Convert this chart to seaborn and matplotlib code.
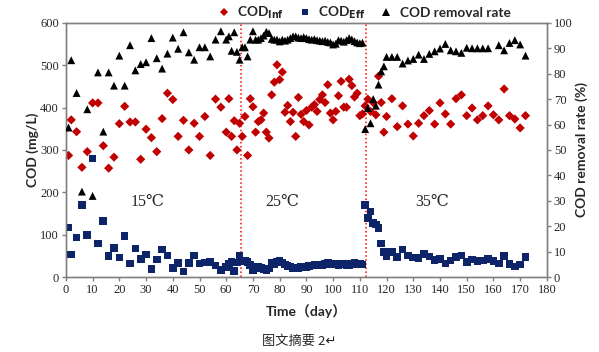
"""
COD influent / effluent and removal rate over time at three temperatures
"""

import matplotlib
matplotlib.use('Agg')
import matplotlib.pyplot as plt
from matplotlib.lines import Line2D
import seaborn as sns
import pandas as pd
import numpy as np

# sampling days (shared by all three series)
day = [1, 2, 4, 6, 8, 10, 12, 14, 16, 18, 20, 22, 24, 26, 28, 30, 32, 34, 36, 38,
       40, 42, 44, 46, 48, 50, 52, 54, 56, 58,
       60, 61, 62, 63, 64, 65, 66, 67, 68, 69, 70, 71, 72, 73, 74, 75, 76, 77, 78, 79,
       80, 81, 82, 83, 84, 85, 86, 87, 88, 89, 90, 91, 92, 93, 94, 95, 96, 97, 98, 99,
       100, 101, 102, 103, 104, 105, 106, 107, 108, 109, 110, 111,
       112, 113, 114, 115, 116, 117, 118, 119, 120,
       122, 124, 126, 128, 130, 132, 134, 136, 138, 140, 142, 144, 146, 148, 150,
       152, 154, 156, 158, 160, 162, 164, 166, 168, 170, 172]

# influent COD (mg/L)
cod_inf = [287, 371, 343, 259, 296, 411, 411, 310, 257, 283, 362, 403, 366, 366, 278, 349, 329, 296, 374, 434,
           419, 332, 370, 300, 363, 332, 379, 287, 420, 401,
           342, 421, 332, 369, 300, 363, 332, 379, 287, 421, 402, 342, 367, 371, 387, 342, 328, 430, 460, 501,
           466, 484, 389, 405, 367, 389, 332, 424, 384, 367, 393, 359, 401, 407, 391, 419, 430, 412, 454, 387,
           371, 391, 428, 462, 401, 401, 467, 452, 425, 434, 381, 385,
           404, 420, 391, 412, 383, 474, 412, 342, 379,
           421, 355, 404, 361, 333, 363, 381, 393, 361, 411, 385, 361, 421, 430, 381,
           399, 371, 381, 404, 383, 371, 444, 381, 373, 352, 381]

# effluent COD (mg/L)
cod_eff = [117, 53, 93, 170, 99, 280, 79, 132, 49, 69, 46, 97, 32, 67, 43, 53, 19, 41, 65, 51,
           22, 33, 13, 33, 51, 32, 34, 36, 27, 16,
           24, 32, 36, 14, 34, 51, 37, 38, 36, 28, 16, 24, 24, 22, 18, 16, 20, 33, 30, 36,
           38, 34, 30, 26, 25, 22, 20, 22, 24, 23, 24, 26, 27, 28, 27, 30, 29, 31, 33, 30,
           32, 31, 28, 30, 32, 27, 29, 31, 33, 30, 32, 30,
           170, 140, 155, 128, 124, 116, 79, 59, 49,
           59, 47, 65, 51, 46, 45, 54, 48, 40, 42, 32, 39, 47, 51, 36,
           41, 38, 39, 42, 38, 32, 49, 31, 25, 30, 47]

# COD removal rate (%)
removal = [58.8, 85.3, 72.4, 33.6, 66.0, 31.9, 80.5, 57.2, 80.5, 75.3, 87.1, 75.3, 91.2, 81.3, 83.8, 84.5, 94.0, 86.1, 82.0, 87.9,
           94.2, 89.8, 96.3, 88.4, 85.5, 90.4, 90.4, 86.8, 93.4, 96.7,
           93.4, 94.7, 89.0, 96.3, 88.6, 85.5, 90.4, 90.4, 86.8, 93.4, 96.7, 93.4, 93.4, 94.0, 95.0, 96.5, 96.0, 93.7, 93.4, 93.4,
           92.7, 93.4, 93.0, 93.4, 94.0, 94.7, 94.7, 94.2, 94.0, 94.4, 94.0, 93.6, 93.4, 93.6, 93.2, 93.0, 92.8, 93.0, 92.5, 92.3,
           91.5, 91.8, 93.2, 93.0, 92.6, 93.2, 94.0, 93.5, 92.8, 92.3, 92.0, 92.2,
           58.2, 66.5, 60.5, 70.0, 67.4, 75.7, 80.9, 82.9, 86.6,
           86.6, 86.6, 84.0, 85.2, 85.8, 87.5, 85.8, 87.8, 88.8, 89.9, 91.7, 89.2, 88.8, 88.2, 90.2,
           90.0, 90.0, 90.0, 90.0, np.nan, 91.2, 89.2, 92.1, 93.2, 91.5, 87.1]

# temperature phases
phase_breaks = [65.5, 112.3]
phase_labels = ['15℃', '25℃', '35℃']
phase_label_x = [30.5, 81, 137]

df = pd.DataFrame({'day': day, 'inf': cod_inf, 'eff': cod_eff, 'rate': removal})

sns.set_style('ticks')
plt.rcParams['font.family'] = ['Liberation Serif', 'DejaVu Serif']
plt.rcParams['mathtext.fontset'] = 'custom'

red = '#C00000'
navy = '#0D2468'
spine_col = '#808080'

fig = plt.figure(figsize=(5.99, 3.52), dpi=100, facecolor='white')
ax = fig.add_axes([0.110, 0.213, 0.803, 0.722])
ax2 = ax.twinx()

sns.scatterplot(data=df, x='day', y='inf', marker='D', s=22, color=red,
                edgecolor='none', ax=ax, zorder=3)
sns.scatterplot(data=df, x='day', y='eff', marker='s', s=30, color=navy,
                edgecolor='none', ax=ax, zorder=3)
sns.scatterplot(data=df.dropna(), x='day', y='rate', marker='^', s=32, color='black',
                edgecolor='none', ax=ax2, zorder=3)

for xb in phase_breaks:
    ax.axvline(xb, color='#FF0000', linestyle=':', linewidth=1.1, zorder=2)

for lab, xl in zip(phase_labels, phase_label_x):
    ax.text(xl, 178, lab, ha='center', va='center', fontsize=11.5,
            family=['Liberation Serif', 'DejaVu Serif'])

ax.set_xlim(0, 180)
ax.set_ylim(0, 600)
ax2.set_ylim(0, 100)
ax.set_xticks(np.arange(0, 181, 10))
ax.set_yticks(np.arange(0, 601, 100))
ax2.set_yticks(np.arange(0, 101, 10))

for a in (ax, ax2):
    a.tick_params(direction='out', length=3, width=1, color=spine_col,
                  labelsize=9, pad=2)
    for sp in a.spines.values():
        sp.set_visible(True)
        sp.set_color(spine_col)
        sp.set_linewidth(1)

sans_bold = dict(family=['Lato', 'Noto Sans CJK SC', 'DejaVu Sans'], fontweight='bold')
ax.set_xlabel('Time（day）', fontsize=10, labelpad=6, **sans_bold)
ax.set_ylabel('COD (mg/L)', fontsize=10, labelpad=1, **sans_bold)
ax2.set_ylabel('COD removal rate (%)', fontsize=10, labelpad=2, **sans_bold)

handles = [
    Line2D([], [], marker='D', linestyle='none', color=red, markersize=4.5, markeredgewidth=0),
    Line2D([], [], marker='s', linestyle='none', color=navy, markersize=5, markeredgewidth=0),
    Line2D([], [], marker='^', linestyle='none', color='black', markersize=5.5, markeredgewidth=0),
]
labels = [r'COD$_{\mathbf{Inf}}$', r'COD$_{\mathbf{Eff}}$', 'COD removal rate']
fig.legend(handles, labels, loc='center', bbox_to_anchor=(0.607, 0.963), ncol=3,
           frameon=False, handletextpad=0.5, columnspacing=1.0, handlelength=1.0,
           prop=dict(family=['Lato', 'DejaVu Sans'], weight='bold', size=9.8))

fig.text(0.5, 0.031, '图文摘要 2↵', ha='center', va='center', fontsize=9.5,
         family=['Noto Sans CJK SC', 'DejaVu Sans'])

plt.savefig('out.png', dpi=100, facecolor='white')
plt.close()
